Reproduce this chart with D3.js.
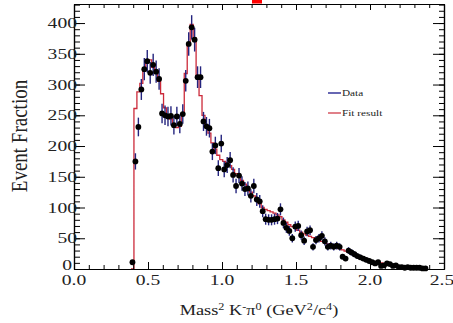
<!DOCTYPE html>
<html>
<head>
<meta charset="utf-8">
<script src="https://cdn.jsdelivr.net/npm/d3@7"></script>
<style>
  html, body { margin: 0; padding: 0; background: #fff; }
  svg { display: block; }
  text { font-family: "Liberation Serif", "Times New Roman", serif; fill: #222; }
</style>
</head>
<body>
<svg id="chart" width="453" height="323"></svg>
<script>
// Bin centres of the K- pi0 invariant mass squared histogram (GeV^2/c^4)
const binCenters = [
  0.395,0.415,0.435,0.455,0.475,0.495,0.515,0.535,0.555,0.575,
  0.595,0.615,0.635,0.655,0.675,0.695,0.715,0.735,0.755,0.775,
  0.795,0.815,0.835,0.855,0.875,0.895,0.915,0.935,0.955,0.975,
  0.995,1.015,1.035,1.055,1.075,1.095,1.115,1.135,1.155,1.175,
  1.195,1.215,1.235,1.255,1.275,1.295,1.315,1.335,1.355,1.375,
  1.395,1.415,1.435,1.455,1.475,1.495,1.515,1.535,1.555,1.575,
  1.595,1.615,1.635,1.655,1.675,1.695,1.715,1.735,1.755,1.775,
  1.795,1.815,1.835,1.855,1.875,1.895,1.915,1.935,1.955,1.975,
  1.995,2.015,2.035,2.055,2.075,2.095,2.115,2.135,2.155,2.175,
  2.195,2.215,2.235,2.255,2.275,2.295,2.315,2.335,2.355,2.375
];
const binWidth = 0.02;

// Measured event counts per bin
const dataCounts = [
  11,175,231,292,325,338,319,332,321,309,
  253,250,248,249,234,248,236,252,306,366,
  393,373,312,312,240,232,229,191,201,164,
  204,162,169,177,153,135,152,139,130,131,
  119,135,113,110,94,81,80,80,81,82,
  97,75,67,62,50,69,70,55,46,61,
  63,36,47,50,54,45,36,38,36,38,
  36,20,17,30,27,24,21,19,17,15,
  13,11,9,11,5,6,9,8,5,6,
  3,3,2,3,2,2,2,2,1,1
];

// Fitted model, one value per bin
const fitCounts = [
  0,261,288,302,327,340,340,328,322,305,
  285,262,248,244,234,230,232,252,318,365,
  398,376,315,282,250,232,221,205,195,185,
  178,175,172,168,162,155,150,144,138,132,
  125,119,113,106,100,97,95,93,91,88,
  85,80,76,72,69,66,63,60,57,55,
  53,51,49,47,45,43,41,39,37,35,
  33,31,29,27,25,23,21,19,17,15,
  14,13,12,11,10,9,8,7,6,5,
  4,4,3,3,2,2,2,1,1,1
];

const xTickValues = [0.0, 0.5, 1.0, 1.5, 2.0, 2.5];
const xTickLabels = ["0.0", "0.5", "1.0", "1.5", "2.0", "2.5"];
const yTickValues = [0, 50, 100, 150, 200, 250, 300, 350, 400];
const yTickLabels = ["0", "50", "100", "150", "200", "250", "300", "350", "400"];
const legendLabels = ["Data", "Fit result"];

const svg = d3.select("#chart");
const plotL = 74, plotR = 444, plotT = 4, plotB = 269;

const x = d3.scaleLinear().domain([0, 2.5]).range([plotL, plotR]);
const y = d3.scaleLinear().domain([0, 431]).range([plotB, plotT]);

const dataColor = "#24247e";
const fitColor = "#cc2a3a";

// Horizontally widened text, anchored at (px, py)
function label(g, px, py, opts) {
  const sx = opts.sx || 1.3;
  return g.append("text")
    .attr("transform", `translate(${px},${py}) scale(${sx},1)` + (opts.rotate ? ` rotate(${opts.rotate})` : ""))
    .attr("text-anchor", opts.anchor || "middle")
    .style("font-size", opts.size + "px");
}

// Fit result: step histogram over bin edges
const fitPts = fitCounts.map((v, i) => [binCenters[i] - binWidth / 2, v]);
fitPts.push([binCenters[binCenters.length - 1] + binWidth / 2, fitCounts[fitCounts.length - 1]]);
svg.append("path")
  .attr("d", d3.line().x(d => x(d[0])).y(d => y(d[1])).curve(d3.curveStepAfter)(fitPts))
  .attr("fill", "none")
  .attr("stroke", fitColor)
  .attr("stroke-width", 1.3);

// Error bars (Poisson)
svg.append("g").selectAll("line")
  .data(dataCounts)
  .join("line")
  .attr("x1", (d, i) => x(binCenters[i]))
  .attr("x2", (d, i) => x(binCenters[i]))
  .attr("y1", d => y(Math.max(0, d - Math.sqrt(d))))
  .attr("y2", d => y(d + Math.sqrt(d)))
  .attr("stroke", dataColor)
  .attr("stroke-width", 1.4);

// Data points
svg.append("g").selectAll("circle")
  .data(dataCounts)
  .join("circle")
  .attr("cx", (d, i) => x(binCenters[i]))
  .attr("cy", d => y(d))
  .attr("r", 2.9)
  .attr("fill", "#000");

// Axes frame with inward ticks
const yMinor = d3.range(0, 431, 10);
const xMinor = d3.range(0, 2.51, 0.1);
function styleAxis(g) {
  g.selectAll("path.domain").attr("stroke", "#000").attr("stroke-width", 1.2);
  g.selectAll(".tick line").attr("stroke", "#000");
  g.selectAll(".tick text").remove();
}
svg.append("g").attr("transform", `translate(${plotL},0)`)
  .call(d3.axisLeft(y).tickValues(yMinor).tickSizeInner(-6).tickSizeOuter(0).tickFormat(""))
  .call(styleAxis);
svg.append("g").attr("transform", `translate(${plotL},0)`)
  .call(d3.axisLeft(y).tickValues(yTickValues).tickSizeInner(-11).tickSizeOuter(0).tickFormat(""))
  .call(styleAxis);
svg.append("g").attr("transform", `translate(${plotR},0)`)
  .call(d3.axisRight(y).tickValues(yMinor).tickSizeInner(-5).tickSizeOuter(0).tickFormat(""))
  .call(styleAxis);
svg.append("g").attr("transform", `translate(${plotR},0)`)
  .call(d3.axisRight(y).tickValues(yTickValues).tickSizeInner(-11).tickSizeOuter(0).tickFormat(""))
  .call(styleAxis);
svg.append("g").attr("transform", `translate(0,${plotB})`)
  .call(d3.axisBottom(x).tickValues(xMinor).tickSizeInner(-4).tickSizeOuter(0).tickFormat(""))
  .call(styleAxis);
svg.append("g").attr("transform", `translate(0,${plotB})`)
  .call(d3.axisBottom(x).tickValues(xTickValues).tickSizeInner(-7).tickSizeOuter(0).tickFormat(""))
  .call(styleAxis);
svg.append("g").attr("transform", `translate(0,${plotT})`)
  .call(d3.axisTop(x).tickValues(xMinor).tickSizeInner(-4).tickSizeOuter(0).tickFormat(""))
  .call(styleAxis);
svg.append("g").attr("transform", `translate(0,${plotT})`)
  .call(d3.axisTop(x).tickValues(xTickValues).tickSizeInner(-6).tickSizeOuter(0).tickFormat(""))
  .call(styleAxis);

// Tick labels
const labels = svg.append("g");
yTickValues.forEach((v, i) => {
  if (v === 0) {
    label(labels, plotL - 2, y(v) + 1, { size: 14, anchor: "end", sx: 1.4 }).text(yTickLabels[i]);
  } else {
    label(labels, plotL + 3, y(v) + 5, { size: 14, anchor: "end", sx: 1.4 }).text(yTickLabels[i]);
  }
});
xTickValues.forEach((v, i) => {
  // the last label is kept inside the canvas
  const px = Math.min(x(v), 442);
  label(labels, px, plotB + 16, { size: 14, anchor: "middle", sx: 1.4 }).text(xTickLabels[i]);
});

// Axis titles
const xt = label(svg, 259, 315, { size: 15, anchor: "middle", sx: 1.22 });
xt.append("tspan").text("Mass");
xt.append("tspan").attr("baseline-shift", "super").style("font-size", "10px").text("2");
xt.append("tspan").text(" K");
xt.append("tspan").attr("baseline-shift", "super").style("font-size", "10px").text("-");
xt.append("tspan").text("\u03c0");
xt.append("tspan").attr("baseline-shift", "super").style("font-size", "10px").text("0");
xt.append("tspan").text(" (GeV");
xt.append("tspan").attr("baseline-shift", "super").style("font-size", "10px").text("2");
xt.append("tspan").text("/c");
xt.append("tspan").attr("baseline-shift", "super").style("font-size", "10px").text("4");
xt.append("tspan").text(")");

label(svg, 27, 136, { size: 19, anchor: "middle", sx: 1.18, rotate: -90 }).text("Event Fraction");

// Legend
const lg = svg.append("g");
lg.append("line").attr("x1", 328).attr("x2", 341).attr("y1", 93).attr("y2", 93)
  .attr("stroke", "#000080").attr("stroke-width", 1.2);
lg.append("line").attr("x1", 328).attr("x2", 341).attr("y1", 113).attr("y2", 113)
  .attr("stroke", fitColor).attr("stroke-width", 1.2);
label(lg, 342, 96, { size: 9, anchor: "start", sx: 1.25 }).text(legendLabels[0]);
label(lg, 342, 116, { size: 9, anchor: "start", sx: 1.25 }).text(legendLabels[1]);

// Red marker at the top edge
svg.append("rect").attr("x", 252).attr("y", 0).attr("width", 10).attr("height", 3.5).attr("fill", "#ff0000");
</script>
</body>
</html>
